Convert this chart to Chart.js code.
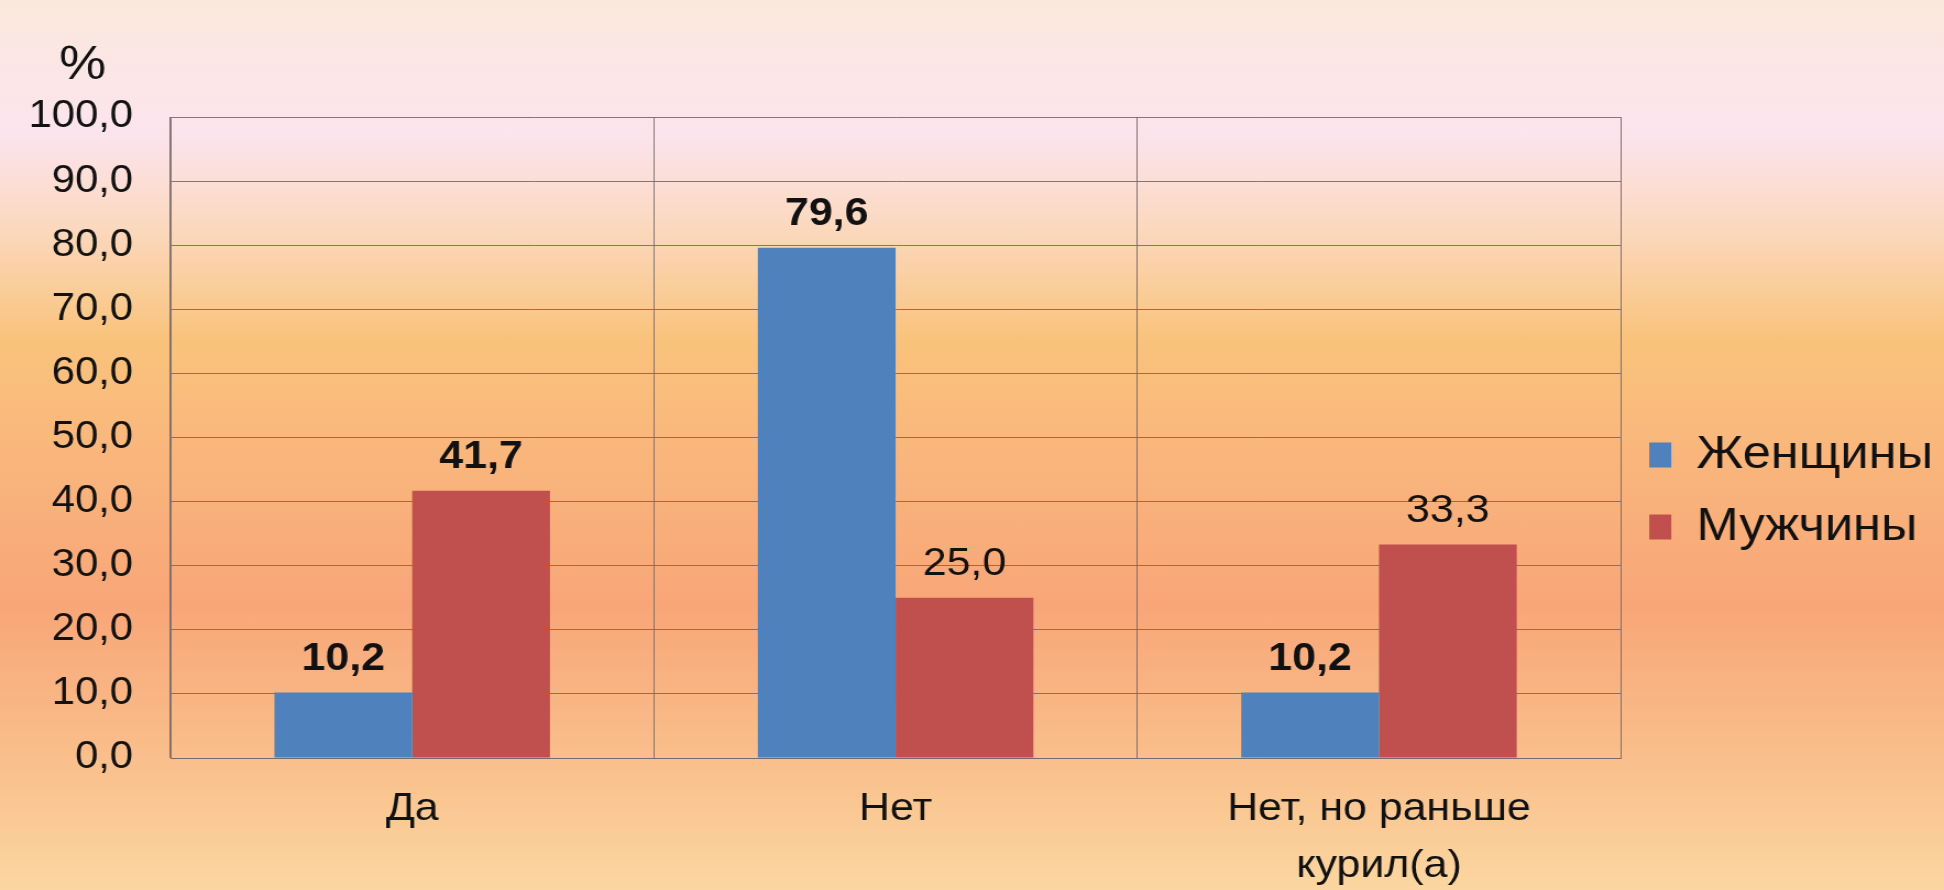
<!DOCTYPE html>
<html>
<head>
<meta charset="utf-8">
<script src="https://cdn.jsdelivr.net/npm/chart.js@4/dist/chart.umd.min.js"></script>
<style>
  html, body { margin: 0; padding: 0; overflow: hidden; }
  body {
    width: 1944px; height: 890px;
    background: linear-gradient(to bottom,
      #fae8dc 0%, #fce4ee 15%, #fbd8bc 26%, #f9c37c 38%,
      #f9b57c 52%, #f8a678 68%, #f9bd8a 84%, #fbd6a0 100%);
  }
  canvas { display: block; }
</style>
</head>
<body>
<!-- drawn narrower and stretched sideways, like the original slide -->
<canvas id="chart" width="1767" height="890" style="width:1944px;height:890px"></canvas>
<script>
const categories = ['Да', 'Нет', ['Нет, но раньше', 'курил(а)']];
const seriesNames = ['Женщины', 'Мужчины'];
const women = [10.2, 79.6, 10.2];
const men = [41.7, 25.0, 33.3];
const womenBold = [true, true, true];
const menBold = [true, false, false];
const yTicks = [0, 10, 20, 30, 40, 50, 60, 70, 80, 90, 100];

const FONT = '"Liberation Sans", Arial, sans-serif';
const fmt = v => Number(v).toFixed(1).replace('.', ',');

const W = 1767;
const plotRight = 1474;
const legendFont = 46;
const legendPad = 26;
const legendBox = 20;

// right padding so the plot ends where the legend starts
// (chart.js legend width = padding + box + font/2 + text + 10)
const canvas = document.getElementById('chart');
const mctx = canvas.getContext('2d');
mctx.font = legendFont + 'px ' + FONT;
const textW = Math.max(...seriesNames.map(s => mctx.measureText(s).width));
const legendW = legendPad + legendBox + legendFont / 2 + textW + 10;
const padRight = Math.max(0, W - plotRight - legendW);

const valueLabels = {
    id: 'valueLabels',
    afterDatasetsDraw(chart) {
        const ctx = chart.ctx;
        const bold = [womenBold, menBold];
        chart.data.datasets.forEach((ds, i) => {
            chart.getDatasetMeta(i).data.forEach((bar, j) => {
                ctx.save();
                ctx.font = (bold[i][j] ? 'bold ' : '') + '39px ' + FONT;
                ctx.fillStyle = '#111';
                ctx.textAlign = 'center';
                ctx.textBaseline = 'alphabetic';
                ctx.fillText(fmt(ds.data[j]), bar.x, bar.y - 23);
                ctx.restore();
            });
        });
    }
};

// the "%" unit above the value axis
const unitLabel = {
    id: 'unitLabel',
    afterDraw(chart) {
        const ctx = chart.ctx;
        const y = chart.scales.y;
        ctx.save();
        ctx.font = '48px ' + FONT;
        ctx.fillStyle = '#111';
        ctx.textAlign = 'center';
        ctx.textBaseline = 'middle';
        ctx.fillText('%', chart.chartArea.left - 80, y.getPixelForValue(100) - 51);
        ctx.restore();
    }
};

// lift the legend a little: its box runs to the canvas bottom
const legendLift = {
    id: 'legendLift',
    afterLayout(chart) {
        if (chart.legend) chart.legend.bottom -= 25;
    }
};

const gridColor = 'rgba(120,105,105,0.9)';

new Chart(mctx, {
    type: 'bar',
    data: {
        labels: categories,
        datasets: [
            { label: seriesNames[0], data: women, backgroundColor: '#4f81bd' },
            { label: seriesNames[1], data: men, backgroundColor: '#c0504d' }
        ]
    },
    options: {
        responsive: false,
        animation: false,
        devicePixelRatio: 1,
        layout: { padding: { left: 0, right: padRight, top: 117, bottom: 0 } },
        datasets: { bar: { categoryPercentage: 0.57, barPercentage: 1.0 } },
        plugins: {
            tooltip: { enabled: false },
            legend: {
                position: 'right',
                align: 'center',
                labels: {
                    boxWidth: legendBox,
                    boxHeight: 25,
                    padding: legendPad,
                    color: '#111',
                    font: { size: legendFont, family: FONT, lineHeight: 41 / legendFont }
                }
            }
        },
        scales: {
            x: {
                grid: { display: true, offset: true, color: gridColor, drawTicks: false },
                border: { color: gridColor },
                ticks: { color: '#111', padding: 23, font: { size: 39, family: FONT, lineHeight: 1.46 } },
                afterFit(scale) { scale.height = 132; }
            },
            y: {
                min: 0,
                max: 100,
                afterBuildTicks(scale) { scale.ticks = yTicks.map(v => ({ value: v })); },
                grid: { color: gridColor, drawTicks: false },
                border: { color: gridColor },
                ticks: {
                    color: '#111',
                    padding: 34,
                    font: { size: 38, family: FONT },
                    callback: v => fmt(v)
                },
                afterFit(scale) { scale.width = 155; }
            }
        }
    },
    plugins: [valueLabels, unitLabel, legendLift]
});
</script>
</body>
</html>
